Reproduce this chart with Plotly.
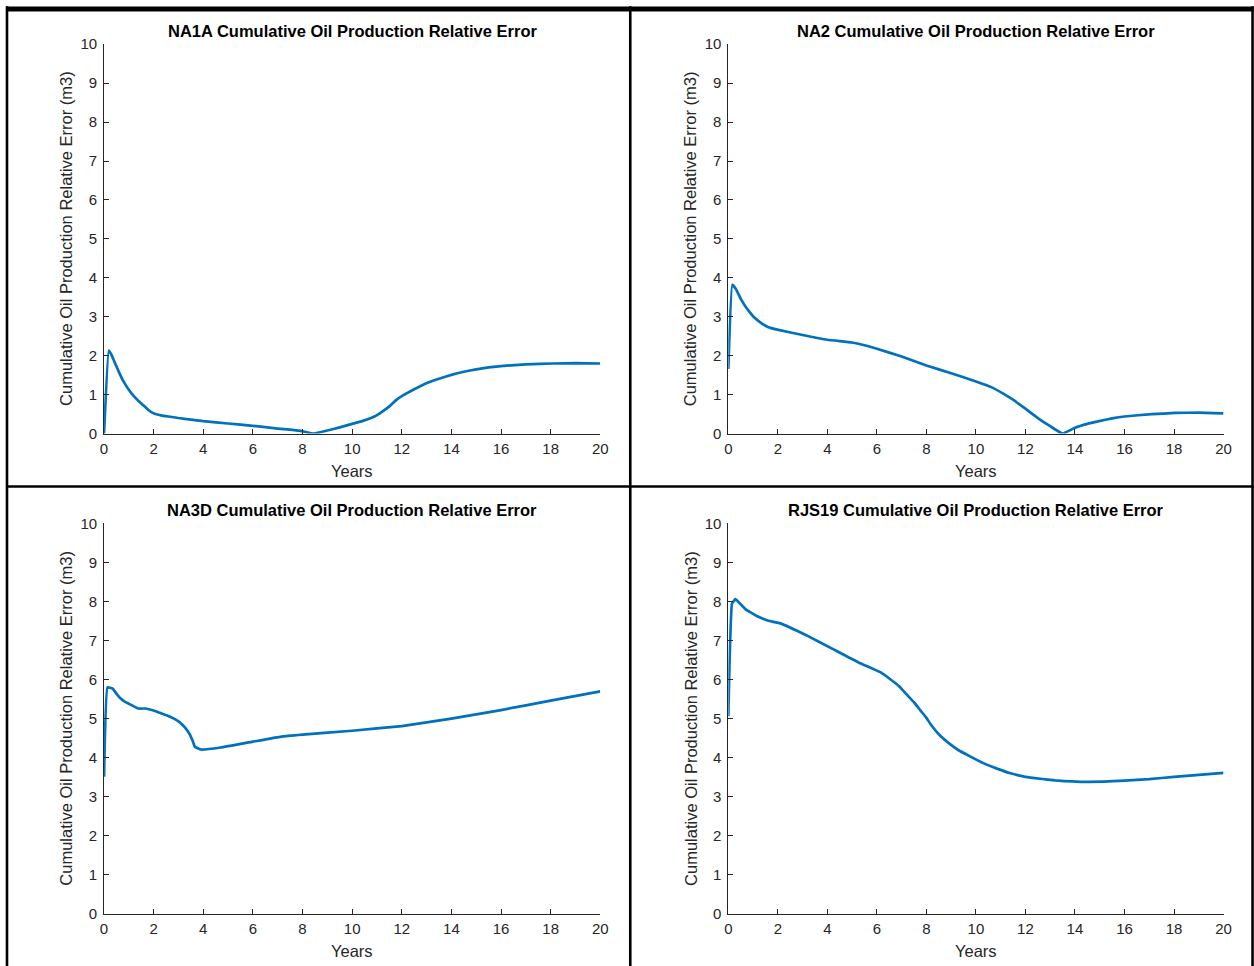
import plotly.graph_objects as go

W, H = 1254, 966

# ---- data ----
na1a_years = [0, 0.19, 0.3, 0.45, 0.6, 0.75, 0.9, 1.05, 1.2, 1.4, 1.6, 1.8, 2.0, 2.3, 2.6, 3.0, 3.5, 4.0, 5.0, 6.0,
              7.0, 7.5, 8.0, 8.46, 9.0, 9.5, 10.0, 10.5, 10.9, 11.2, 11.5, 11.77, 12.05, 12.5, 12.9, 13.5, 14.07,
              14.5, 15.0, 15.5, 16.1, 17.0, 18.1, 19.0, 20.0]
na1a_err = [0.0, 2.13, 2.02, 1.8, 1.58, 1.38, 1.22, 1.08, 0.96, 0.83, 0.72, 0.6, 0.52, 0.47, 0.44, 0.4, 0.36,
            0.32, 0.26, 0.2, 0.13, 0.1, 0.06, 0.0, 0.08, 0.16, 0.25, 0.34, 0.44, 0.56, 0.7, 0.86, 0.98, 1.14,
            1.27, 1.41, 1.52, 1.59, 1.65, 1.7, 1.74, 1.78, 1.8, 1.81, 1.8]

na2_years = [0, 0.16, 0.3, 0.52, 0.7, 0.84, 1.05, 1.33, 1.6, 1.98, 2.95, 4.0, 4.98, 5.5, 6.0, 7.0, 8.0, 9.0,
             10.0, 10.6, 11.07, 11.5, 12.0, 12.5, 13.0, 13.5, 14.0, 14.5, 14.97, 15.5, 16.0, 17.1, 18.05, 19.0, 20.0]
na2_err = [1.66, 3.82, 3.72, 3.44, 3.26, 3.14, 2.98, 2.84, 2.74, 2.67, 2.54, 2.41, 2.34, 2.27, 2.18, 1.98, 1.75,
           1.55, 1.34, 1.2, 1.04, 0.87, 0.64, 0.4, 0.19, 0.0, 0.15, 0.25, 0.32, 0.39, 0.44, 0.5, 0.53, 0.54, 0.52]

na3d_years = [0, 0.14, 0.35, 0.5, 0.66, 0.85, 1.1, 1.38, 1.67, 2.0, 2.25, 2.55, 2.82, 3.0, 3.18, 3.35, 3.47,
              3.58, 3.66, 3.9, 4.7, 6.0, 7.15, 8.0, 10.0, 12.0, 14.0, 16.0, 18.0, 20.0]
na3d_err = [3.51, 5.8, 5.77, 5.64, 5.52, 5.43, 5.35, 5.26, 5.26, 5.21, 5.15, 5.08, 5.0, 4.93, 4.83, 4.7, 4.58,
            4.42, 4.28, 4.21, 4.26, 4.41, 4.54, 4.59, 4.69, 4.81, 5.0, 5.22, 5.46, 5.7]

rjs19_years = [0, 0.15, 0.29, 0.5, 0.7, 0.9, 1.15, 1.4, 1.66, 2.1, 3.2, 4.23, 5.26, 6.14, 6.58, 6.9, 7.17,
               7.5, 7.76, 8.0, 8.2, 8.5, 8.93, 9.3, 9.8, 10.3, 10.85, 11.4, 12.0, 12.6, 13.2, 14.5, 16.0, 17.0,
               18.0, 20.0]
rjs19_err = [5.06, 7.95, 8.06, 7.93, 7.8, 7.72, 7.63, 7.56, 7.5, 7.44, 7.12, 6.78, 6.44, 6.19, 5.99, 5.83, 5.64,
             5.42, 5.21, 5.02, 4.83, 4.6, 4.36, 4.19, 4.02, 3.86, 3.72, 3.6, 3.51, 3.46, 3.42, 3.38, 3.41, 3.45,
             3.51, 3.61]

titles = ["NA1A Cumulative Oil Production Relative Error",
          "NA2 Cumulative Oil Production Relative Error",
          "NA3D Cumulative Oil Production Relative Error",
          "RJS19 Cumulative Oil Production Relative Error"]
x_label = "Years"
y_label = "Cumulative Oil Production Relative Error (m3)"
x_ticks = [0, 2, 4, 6, 8, 10, 12, 14, 16, 18, 20]
y_ticks = [0, 1, 2, 3, 4, 5, 6, 7, 8, 9, 10]

series = [(na1a_years, na1a_err), (na2_years, na2_err), (na3d_years, na3d_err), (rjs19_years, rjs19_err)]

# ---- layout geometry (target pixels in the final picture) ----
px_x = [(104, 600), (728, 1223), (104, 600), (728, 1223)]
px_y = [(43, 433), (43, 433), (523, 914), (523, 914)]

# the photographed page is slightly scaled/offset; compensate
SX, OX = 0.990, 4.0
SY, OY = 0.984, 7.7

def fx(t):
    return ((t - OX) / SX) / W

def fy(t):
    return 1 - ((t - OY) / SY) / H

FONT = "Liberation Sans, Arial, sans-serif"
AXC = "#262626"
LINE = "#0072BD"

fig = go.Figure()
annotations = []
layout_axes = {}
for i, ((xs, ys), (x0, x1), (y0, y1)) in enumerate(zip(series, px_x, px_y)):
    n = "" if i == 0 else str(i + 1)
    fig.add_trace(go.Scatter(x=xs, y=ys, mode="lines", line=dict(color=LINE, width=2.7, shape="spline", smoothing=0.3),
                             xaxis="x" + n, yaxis="y" + n, showlegend=False, hoverinfo="skip"))
    layout_axes["xaxis" + n] = dict(domain=[fx(x0), fx(x1)], anchor="y" + n, range=[0, 20], tickvals=x_ticks,
                                    showgrid=False, zeroline=False, showline=True, linecolor=AXC, linewidth=0.8,
                                    ticks="inside", ticklen=5, tickcolor=AXC, tickwidth=0.8, ticklabelstandoff=1,
                                    tickfont=dict(family=FONT, size=15, color=AXC))
    layout_axes["yaxis" + n] = dict(domain=[fy(y1), fy(y0)], anchor="x" + n, range=[0, 10], tickvals=y_ticks,
                                    showgrid=False, zeroline=False, showline=True, linecolor=AXC, linewidth=0.8,
                                    ticks="inside", ticklen=5, tickcolor=AXC, tickwidth=0.8, ticklabelstandoff=3,
                                    tickfont=dict(family=FONT, size=15, color=AXC))
    cx = (x0 + x1) / 2
    annotations.append(dict(text="<b>" + titles[i] + "</b>", x=fx(cx), y=fy(y0 - 13), xref="paper", yref="paper",
                            showarrow=False, font=dict(family=FONT, size=16.5, color="#000000"),
                            xanchor="center", yanchor="middle"))
    annotations.append(dict(text=x_label, x=fx(cx), y=fy(y1 + 37), xref="paper", yref="paper",
                            showarrow=False, font=dict(family=FONT, size=16.5, color=AXC),
                            xanchor="center", yanchor="middle"))
    annotations.append(dict(text=y_label, x=fx(x0 - 38), y=fy((y0 + y1) / 2), xref="paper", yref="paper",
                            showarrow=False, textangle=-90, font=dict(family=FONT, size=16.5, color=AXC),
                            xanchor="center", yanchor="middle"))

BW = 2.6
shapes = [
    dict(type="line", xref="paper", yref="paper", x0=fx(7), x1=fx(7), y0=fy(5), y1=fy(975), line=dict(color="black", width=BW)),
    dict(type="line", xref="paper", yref="paper", x0=fx(1252), x1=fx(1252), y0=fy(5), y1=fy(975), line=dict(color="black", width=BW)),
    dict(type="line", xref="paper", yref="paper", x0=fx(6), x1=fx(1253), y0=min(1.0, fy(6)), y1=min(1.0, fy(6)),
         line=dict(color="black", width=BW * 2)),
    dict(type="line", xref="paper", yref="paper", x0=fx(630), x1=fx(630), y0=fy(5), y1=fy(975), line=dict(color="black", width=BW)),
    dict(type="line", xref="paper", yref="paper", x0=fx(6), x1=fx(1253), y0=fy(486), y1=fy(486), line=dict(color="black", width=BW)),
]

fig.update_layout(width=W, height=H, margin=dict(l=0, r=0, t=0, b=0), paper_bgcolor="white", plot_bgcolor="white",
                  annotations=annotations, shapes=shapes, **layout_axes)
fig.write_html("out.html",
               config={"displayModeBar": False},
               post_script="document.body.style.margin='0';document.body.style.overflow='hidden';")
